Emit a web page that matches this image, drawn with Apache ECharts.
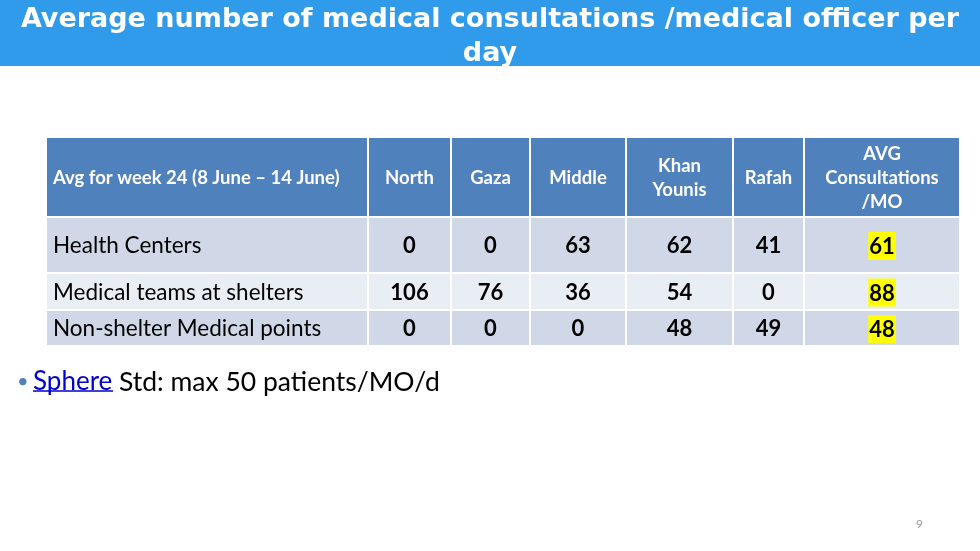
<!DOCTYPE html>
<html>
<head>
<meta charset="utf-8">
<script src="https://cdn.jsdelivr.net/npm/echarts@6/dist/echarts.min.js"></script>
<style>
  html, body { margin: 0; padding: 0; background: #fff; }
  #main { width: 980px; height: 551px; }
</style>
</head>
<body>
<div id="main"></div>
<script>
// table content
var cornerLabel = 'Avg for week 24 (8 June \u2013 14 June)';
var regions = ['North', 'Gaza', 'Middle', 'Khan\nYounis', 'Rafah'];
var avgHeader = 'AVG\nConsultations\n/MO';
var facilityTypes = ['Health Centers', 'Medical teams at shelters', 'Non-shelter Medical points'];
var healthCenters = [0, 0, 63, 62, 41];
var shelterTeams = [106, 76, 36, 54, 0];
var nonShelterPoints = [0, 0, 0, 48, 49];
var avgPerMO = [61, 88, 48];

// layout of the table (pixels, only used as proportions)
var colWidths = [322, 83, 79, 96, 107, 71, 156];
var rowHeights = [80, 56, 37, 36];
var rowColors = ['#4F81BD', '#D0D8E8', '#E9EDF4', '#D0D8E8'];

function edges(list) {
    var total = list.reduce(function (a, b) { return a + b; }, 0);
    var out = [0], acc = 0;
    list.forEach(function (v) { acc += v; out.push(acc / total); });
    return out;
}
var colEdges = edges(colWidths);
var rowEdges = edges(rowHeights);

// cells: [col, row, text]
var cells = [];
cells.push([0, 0, cornerLabel]);
regions.forEach(function (r, i) { cells.push([i + 1, 0, r]); });
cells.push([6, 0, avgHeader]);
[healthCenters, shelterTeams, nonShelterPoints].forEach(function (vals, r) {
    cells.push([0, r + 1, facilityTypes[r]]);
    vals.forEach(function (v, i) { cells.push([i + 1, r + 1, String(v)]); });
    cells.push([6, r + 1, String(avgPerMO[r])]);
});

var font = 'Lato, "Noto Sans", sans-serif';

function renderCell(params, api) {
    var c = api.value(0), r = api.value(1);
    var txt = cells[params.dataIndex][2];
    var p0 = api.coord([colEdges[c], rowEdges[r]]);
    var p1 = api.coord([colEdges[c + 1], rowEdges[r + 1]]);
    var x = p0[0], y = p0[1], w = p1[0] - p0[0], h = p1[1] - p0[1];
    var isHeader = r === 0;
    var textStyle = {
        text: txt,
        x: c === 0 ? x + 7 : x + w / 2,
        y: y + h / 2 + 1,
        align: c === 0 ? 'left' : 'center',
        verticalAlign: 'middle',
        fill: isHeader ? '#fff' : '#000',
        fontFamily: font,
        fontSize: isHeader ? 18.5 : (c === 0 ? 22.5 : 22),
        fontWeight: (isHeader || c > 0) ? 'bold' : 'normal',
        lineHeight: 24
    };
    if (!isHeader && c === 6) {
        textStyle.text = '{h|' + txt + '}';
        textStyle.rich = {
            h: {
                backgroundColor: '#FFFF00',
                padding: [4, 1, 2, 1],
                fontFamily: font,
                fontSize: 22,
                fontWeight: 'bold',
                color: '#000'
            }
        };
    }
    return {
        type: 'group',
        children: [{
            type: 'rect',
            shape: { x: x, y: y, width: w, height: h },
            style: { fill: rowColors[r], stroke: '#fff', lineWidth: 2 }
        }, {
            type: 'text',
            style: textStyle
        }]
    };
}

var myChart = echarts.init(document.getElementById('main'));
var option = {
    backgroundColor: '#fff',
    animation: false,
    title: {
        text: 'Average number of medical consultations /medical officer per\nday',
        left: 'center',
        top: -2,
        textStyle: {
            color: '#fff',
            fontFamily: '"DejaVu Sans", sans-serif',
            fontSize: 27,
            fontWeight: 'bold',
            lineHeight: 34
        }
    },
    graphic: [{
        type: 'rect',
        z: -1,
        shape: { x: 0, y: 0, width: 980, height: 66 },
        style: { fill: '#2F9BEA' }
    }, {
        type: 'text',
        style: { text: '\u2022', x: 17, y: 382, verticalAlign: 'middle', fill: '#4F81BD', fontSize: 20, fontFamily: font }
    }, {
        type: 'text',
        style: { text: 'Sphere', x: 33, y: 382, verticalAlign: 'middle', fill: '#0000CC', fontSize: 26, fontFamily: font }
    }, {
        type: 'text',
        style: { text: 'Std: max 50 patients/MO/d', x: 119, y: 382, verticalAlign: 'middle', fill: '#000', fontSize: 26.5, fontFamily: font }
    }, {
        type: 'line',
        shape: { x1: 33, y1: 391, x2: 113, y2: 391 },
        style: { stroke: '#0000CC', lineWidth: 1.5 }
    }, {
        type: 'text',
        style: { text: '9', x: 916, y: 518, fill: '#999', fontSize: 12, fontFamily: font }
    }],
    grid: { left: 46, top: 137, right: 20, bottom: 205 },
    xAxis: { type: 'value', min: 0, max: 1, show: false },
    yAxis: { type: 'value', min: 0, max: 1, inverse: true, show: false },
    series: [{
        type: 'custom',
        renderItem: renderCell,
        encode: { x: 0, y: 1 },
        data: cells.map(function (d) { return [d[0], d[1]]; })
    }]
};
myChart.setOption(option);
</script>
</body>
</html>
